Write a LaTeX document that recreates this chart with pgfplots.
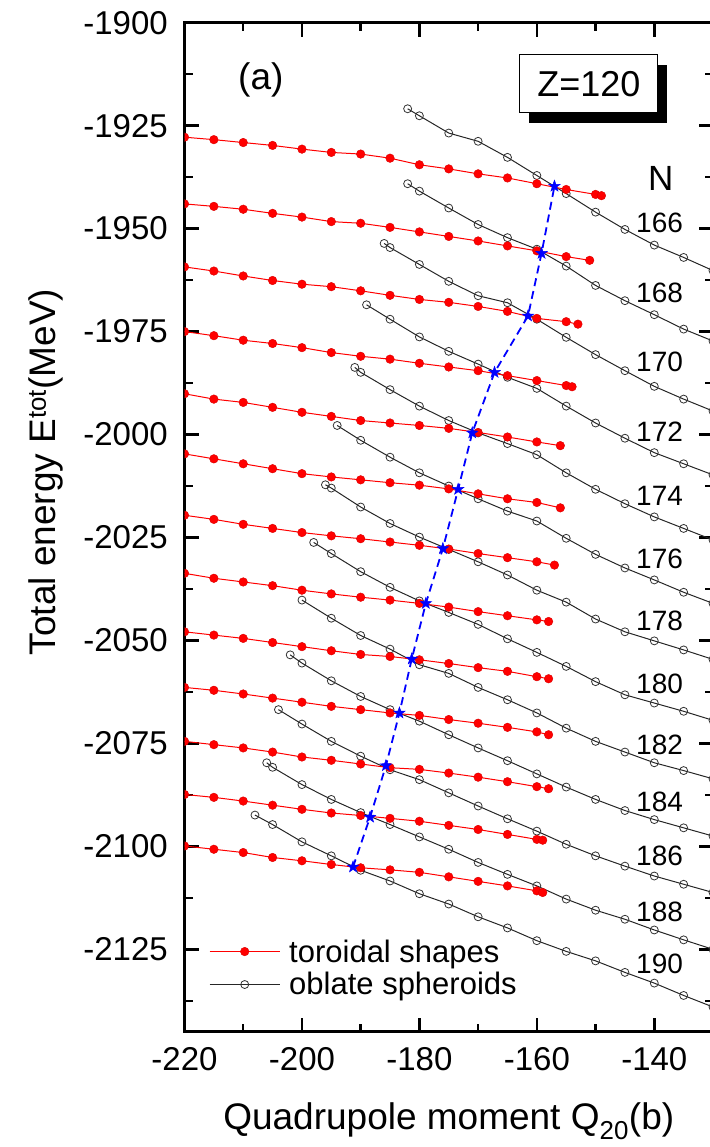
\documentclass[border=0pt]{standalone}
\usepackage{pgfplots}
\pgfplotsset{compat=1.18}
\usepackage{fontspec}
\setmainfont{Liberation Sans}
\usetikzlibrary{shadows}

\pgfdeclareplotmark{fstar}{%
 \pgfpathmoveto{\pgfpointpolar{90}{\pgfplotmarksize}}%
 \pgfpathlineto{\pgfpointpolar{126}{0.4\pgfplotmarksize}}%
 \pgfpathlineto{\pgfpointpolar{162}{\pgfplotmarksize}}%
 \pgfpathlineto{\pgfpointpolar{198}{0.4\pgfplotmarksize}}%
 \pgfpathlineto{\pgfpointpolar{234}{\pgfplotmarksize}}%
 \pgfpathlineto{\pgfpointpolar{270}{0.4\pgfplotmarksize}}%
 \pgfpathlineto{\pgfpointpolar{306}{\pgfplotmarksize}}%
 \pgfpathlineto{\pgfpointpolar{342}{0.4\pgfplotmarksize}}%
 \pgfpathlineto{\pgfpointpolar{18}{\pgfplotmarksize}}%
 \pgfpathlineto{\pgfpointpolar{54}{0.4\pgfplotmarksize}}%
 \pgfpathclose
 \pgfusepathqfillstroke
}

\pgfplotsset{
 tor/.style={red, line width=1pt, mark=*, mark size=4.3pt, mark options={fill=red, draw=red!85!black, line width=0.4pt}},
 obl/.style={black!85, line width=1pt, mark=o, mark size=4pt, mark options={fill=white, line width=0.8pt, draw=black!80}},
}

\begin{document}
\begin{tikzpicture}
\begin{axis}[
 name=ax,
 scale only axis, width=528.5pt, height=1009pt,
 xmin=-220, xmax=-130, ymin=-2145, ymax=-1900,
 xtick={-220,-200,-180,-160,-140},
 minor xtick={-210,-190,-170,-150,-130},
 ytick={-2125,-2100,-2075,-2050,-2025,-2000,-1975,-1950,-1925,-1900},
 minor ytick={-2137.5,-2112.5,-2087.5,-2062.5,-2037.5,-2012.5,-1987.5,-1962.5,-1937.5,-1912.5},
 tick align=inside,
 major tick length=14pt, minor tick length=8pt,
 every tick/.style={line width=2.5pt, black},
 axis line style={line width=3pt},
 /pgf/number format/assume math mode=true,
 /pgf/number format/1000 sep={},
 ticklabel style={font=\fontsize{33}{40}\selectfont},
 yticklabel style={inner sep=0pt, xshift=-16.5pt},
 xticklabel style={inner sep=0pt, yshift=-16pt},
 xlabel={Quadrupole moment Q\textsubscript{20}(b)},
 ylabel={Total energy E\textsuperscript{tot}(MeV)},
 label style={font=\fontsize{37}{44}\selectfont},
 xlabel style={at={(axis description cs:0.5,0)}, anchor=base, yshift=-98pt},
 ylabel style={at={(axis description cs:-0.245,0.5547)}, anchor=base},
 clip marker paths=true,
 legend cell align=left,
 legend style={draw=none, fill=none, at={(0.0464,0.0631)}, anchor=west,
   font=\fontsize{31}{37}\selectfont, row sep=9pt, column sep=9pt, inner sep=0pt,
   nodes={inner sep=0pt}},
 legend image code/.code={\draw[mark repeat=2,mark phase=2] plot coordinates {(0pt,0pt) (35pt,0pt) (70pt,0pt)};},
]
\addlegendimage{tor}
\addlegendentry{toroidal shapes}
\addlegendimage{obl}
\addlegendentry{oblate spheroids}

% oblate spheroids
\addplot[obl] coordinates {(-182,-1920.9) (-180,-1922.6) (-175,-1926.8) (-170,-1928.8) (-165,-1932.7) (-160,-1937.1) (-155,-1941.5) (-150,-1946.0) (-145,-1950.2) (-140,-1954.0) (-135,-1957.0) (-130,-1960.2)};
\addplot[obl] coordinates {(-182,-1939.1) (-180,-1940.9) (-175,-1945.0) (-170,-1949.0) (-165,-1952.2) (-160,-1955.0) (-155,-1959.1) (-150,-1963.8) (-145,-1967.5) (-140,-1970.9) (-135,-1974.4) (-130,-1977.3)};
\addplot[obl] coordinates {(-186,-1953.6) (-185,-1954.6) (-180,-1958.7) (-175,-1962.8) (-170,-1966.3) (-165,-1968.0) (-160,-1972.0) (-155,-1976.4) (-150,-1980.6) (-145,-1984.5) (-140,-1988.3) (-135,-1991.4) (-130,-1994.3)};
\addplot[obl] coordinates {(-189,-1968.5) (-185,-1972.0) (-180,-1976.3) (-175,-1979.8) (-170,-1982.9) (-165,-1986.1) (-160,-1988.8) (-155,-1993.1) (-150,-1997.2) (-145,-2000.9) (-140,-2004.4) (-135,-2007.1) (-130,-2009.8)};
\addplot[obl] coordinates {(-191,-1983.7) (-190,-1984.9) (-185,-1989.1) (-180,-1993.1) (-175,-1996.6) (-170,-1999.6) (-165,-2002.2) (-160,-2004.9) (-155,-2009.3) (-150,-2013.3) (-145,-2016.8) (-140,-2020.0) (-135,-2022.8) (-130,-2025.6)};
\addplot[obl] coordinates {(-194,-1997.8) (-190,-2001.4) (-185,-2005.5) (-180,-2009.3) (-175,-2012.5) (-170,-2015.6) (-165,-2018.6) (-160,-2021.0) (-155,-2025.2) (-150,-2029.1) (-145,-2032.4) (-140,-2035.3) (-135,-2038.3) (-130,-2041.0)};
\addplot[obl] coordinates {(-196,-2012.2) (-195,-2013.0) (-190,-2017.6) (-185,-2021.6) (-180,-2024.9) (-175,-2027.9) (-170,-2030.9) (-165,-2034.1) (-160,-2037.8) (-155,-2040.7) (-150,-2044.8) (-145,-2047.9) (-140,-2050.1) (-135,-2052.3) (-130,-2054.6)};
\addplot[obl] coordinates {(-198,-2026.2) (-195,-2028.9) (-190,-2033.3) (-185,-2037.1) (-180,-2040.4) (-175,-2043.2) (-170,-2046.1) (-165,-2049.6) (-160,-2052.9) (-155,-2056.3) (-150,-2060.0) (-145,-2063.2) (-140,-2065.2) (-135,-2067.2) (-130,-2069.4)};
\addplot[obl] coordinates {(-200,-2040.2) (-195,-2044.6) (-190,-2048.8) (-185,-2052.1) (-180,-2055.9) (-175,-2058.0) (-170,-2061.4) (-165,-2064.4) (-160,-2067.6) (-155,-2071.3) (-150,-2074.5) (-145,-2077.1) (-140,-2079.7) (-135,-2081.6) (-130,-2083.6)};
\addplot[obl] coordinates {(-202,-2053.5) (-200,-2055.5) (-195,-2059.8) (-190,-2063.6) (-185,-2066.8) (-180,-2069.6) (-175,-2072.9) (-170,-2076.1) (-165,-2079.2) (-160,-2082.4) (-155,-2085.6) (-150,-2088.6) (-145,-2091.3) (-140,-2093.5) (-135,-2095.5) (-130,-2097.5)};
\addplot[obl] coordinates {(-204,-2066.8) (-200,-2070.3) (-195,-2074.5) (-190,-2078.1) (-185,-2081.4) (-180,-2083.8) (-175,-2087.0) (-170,-2090.2) (-165,-2093.3) (-160,-2096.3) (-155,-2099.5) (-150,-2102.3) (-145,-2104.8) (-140,-2107.2) (-135,-2109.2) (-130,-2111.2)};
\addplot[obl] coordinates {(-206,-2079.7) (-205,-2080.8) (-200,-2085.0) (-195,-2088.6) (-190,-2091.8) (-185,-2094.7) (-180,-2097.7) (-175,-2100.7) (-170,-2103.9) (-165,-2106.8) (-160,-2109.6) (-155,-2112.8) (-150,-2115.5) (-145,-2117.7) (-140,-2120.3) (-135,-2122.7) (-130,-2125.0)};
\addplot[obl] coordinates {(-208,-2092.4) (-205,-2094.7) (-200,-2098.9) (-195,-2102.3) (-190,-2105.8) (-185,-2108.4) (-180,-2111.5) (-175,-2114.0) (-170,-2117.1) (-165,-2119.8) (-160,-2122.9) (-155,-2125.5) (-150,-2127.8) (-145,-2130.6) (-140,-2133.2) (-135,-2136.2) (-130,-2139.0)};

% toroidal shapes
\addplot[tor] coordinates {(-220,-1927.8) (-215,-1928.4) (-210,-1929.1) (-205,-1929.8) (-200,-1930.7) (-195,-1931.5) (-190,-1931.9) (-185,-1932.9) (-180,-1934.5) (-175,-1935.5) (-170,-1936.7) (-165,-1937.7) (-160,-1939.1) (-155,-1940.5) (-150,-1941.7) (-149,-1942.0)};
\addplot[tor] coordinates {(-220,-1944.0) (-215,-1944.6) (-210,-1945.3) (-205,-1946.3) (-200,-1947.2) (-195,-1948.3) (-190,-1948.7) (-185,-1949.7) (-180,-1950.8) (-175,-1951.9) (-170,-1953.0) (-165,-1954.2) (-160,-1955.4) (-155,-1956.8) (-151,-1957.7)};
\addplot[tor] coordinates {(-220,-1959.3) (-215,-1960.3) (-210,-1961.5) (-205,-1962.6) (-200,-1963.5) (-195,-1964.1) (-190,-1965.1) (-185,-1966.2) (-180,-1967.2) (-175,-1967.9) (-170,-1968.9) (-165,-1970.1) (-160,-1971.8) (-155,-1972.6) (-153,-1973.2)};
\addplot[tor] coordinates {(-220,-1975.0) (-215,-1976.0) (-210,-1977.1) (-205,-1977.9) (-200,-1978.9) (-195,-1980.1) (-190,-1981.0) (-185,-1981.7) (-180,-1982.7) (-175,-1983.6) (-170,-1984.5) (-165,-1985.7) (-160,-1986.9) (-155,-1988.1) (-154,-1988.4)};
\addplot[tor] coordinates {(-220,-1990.1) (-215,-1991.4) (-210,-1992.2) (-205,-1993.4) (-200,-1994.6) (-195,-1995.6) (-190,-1996.6) (-185,-1997.2) (-180,-1997.8) (-175,-1998.5) (-170,-1999.5) (-165,-2000.6) (-160,-2001.8) (-156,-2002.7)};
\addplot[tor] coordinates {(-220,-2004.7) (-215,-2005.9) (-210,-2007.1) (-205,-2008.3) (-200,-2009.5) (-195,-2010.3) (-190,-2011.0) (-185,-2011.7) (-180,-2012.3) (-175,-2013.2) (-170,-2014.4) (-165,-2015.6) (-160,-2016.5) (-156,-2017.8)};
\addplot[tor] coordinates {(-220,-2019.6) (-215,-2020.6) (-210,-2021.8) (-205,-2022.8) (-200,-2023.8) (-195,-2024.6) (-190,-2025.3) (-185,-2026.1) (-180,-2026.9) (-175,-2027.8) (-170,-2028.9) (-165,-2029.9) (-160,-2030.9) (-157,-2031.7)};
\addplot[tor] coordinates {(-220,-2033.7) (-215,-2034.9) (-210,-2035.8) (-205,-2036.7) (-200,-2037.8) (-195,-2038.7) (-190,-2039.5) (-185,-2040.2) (-180,-2041.0) (-175,-2041.9) (-170,-2043.0) (-165,-2044.0) (-160,-2045.0) (-158,-2045.4)};
\addplot[tor] coordinates {(-220,-2047.9) (-215,-2048.7) (-210,-2049.5) (-205,-2050.5) (-200,-2051.5) (-195,-2052.5) (-190,-2053.4) (-185,-2053.9) (-180,-2054.7) (-175,-2055.6) (-170,-2056.6) (-165,-2057.5) (-160,-2058.8) (-158,-2059.3)};
\addplot[tor] coordinates {(-220,-2061.4) (-215,-2062.1) (-210,-2063.0) (-205,-2064.0) (-200,-2065.0) (-195,-2066.0) (-190,-2066.8) (-185,-2067.6) (-180,-2068.2) (-175,-2069.2) (-170,-2070.1) (-165,-2071.1) (-160,-2072.2) (-158,-2072.9)};
\addplot[tor] coordinates {(-220,-2074.5) (-215,-2075.3) (-210,-2076.1) (-205,-2077.1) (-200,-2078.3) (-195,-2079.1) (-190,-2080.0) (-185,-2080.9) (-180,-2081.3) (-175,-2082.2) (-170,-2083.2) (-165,-2084.3) (-160,-2085.5) (-158,-2086.0)};
\addplot[tor] coordinates {(-220,-2087.4) (-215,-2088.1) (-210,-2089.0) (-205,-2090.0) (-200,-2091.0) (-195,-2091.9) (-190,-2092.5) (-185,-2093.2) (-180,-2093.9) (-175,-2094.9) (-170,-2095.9) (-165,-2097.1) (-160,-2098.3) (-159,-2098.5)};
\addplot[tor] coordinates {(-220,-2099.9) (-215,-2100.7) (-210,-2101.5) (-205,-2102.7) (-200,-2103.5) (-195,-2104.4) (-190,-2105.2) (-185,-2105.7) (-180,-2106.3) (-175,-2107.4) (-170,-2108.5) (-165,-2109.6) (-160,-2110.8) (-159,-2111.2)};

% crossing points
\addplot[blue, line width=1.8pt, dash pattern=on 8pt off 5pt, mark=fstar, mark size=6pt, mark options={solid, fill=blue, line width=0.5pt}] coordinates {(-191.3,-2105.0) (-188.4,-2092.9) (-185.7,-2080.4) (-183.4,-2067.6) (-181.3,-2054.5) (-178.9,-2041.0) (-176.0,-2027.7) (-173.4,-2013.3) (-171.0,-1999.6) (-167.2,-1984.9) (-161.5,-1971.2) (-159.2,-1956.0) (-157.0,-1939.7)};

\node[font=\fontsize{37}{44}\selectfont] at (axis cs:-207,-1913.9) {(a)};
\node[draw, line width=1pt, fill=white, minimum width=138pt, minimum height=58pt, font=\fontsize{36}{43}\selectfont, drop shadow={shadow xshift=9pt, shadow yshift=-10pt, opacity=1, fill=black}] at (axis cs:-151.15,-1914.8) {Z=120};
\node[font=\fontsize{35}{42}\selectfont] at (axis cs:-138.9,-1937.9) {N};
\begin{scope}[every node/.style={font=\fontsize{28}{34}\selectfont}]
\node at (axis cs:-139.1,-1948.5) {166};
\node at (axis cs:-139.1,-1965.5) {168};
\node at (axis cs:-139.1,-1982.4) {170};
\node at (axis cs:-139.1,-1999.3) {172};
\node at (axis cs:-139.1,-2014.8) {174};
\node at (axis cs:-139.1,-2030.3) {176};
\node at (axis cs:-139.1,-2045.3) {178};
\node at (axis cs:-139.1,-2060.6) {180};
\node at (axis cs:-139.1,-2075.3) {182};
\node at (axis cs:-139.1,-2089.1) {184};
\node at (axis cs:-139.1,-2102.4) {186};
\node at (axis cs:-139.1,-2115.8) {188};
\node at (axis cs:-139.1,-2128.6) {190};
\end{scope}
\end{axis}
\pgfresetboundingbox
\path[use as bounding box] ([xshift=-184.5pt,yshift=-115.3pt]ax.south west) rectangle ([xshift=-4pt,yshift=22.7pt]ax.north east);
\end{tikzpicture}
\end{document}
